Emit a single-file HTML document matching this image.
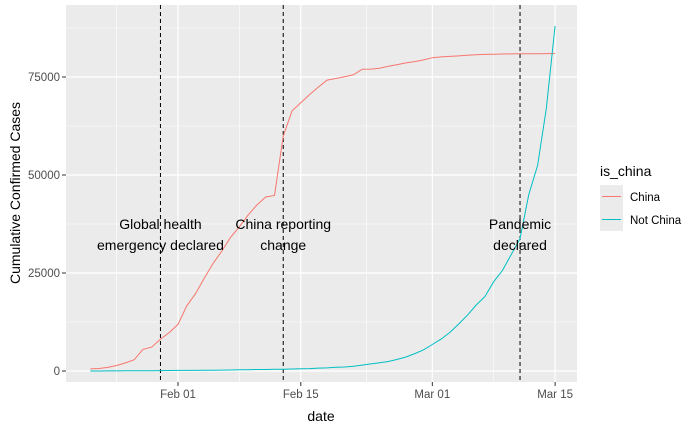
<!DOCTYPE html>
<html><head><meta charset="utf-8"><style>
body{margin:0;background:#fff;}
svg{display:block;font-family:"Liberation Sans",sans-serif;}
</style></head><body>
<svg id="chart" width="700" height="432" viewBox="0 0 700 432">
<rect x="66" y="5" width="511" height="377" fill="#ebebeb"/>
<g id="grid"></g>
<g id="vlines"></g>
<g id="lines"></g>
<g id="annot"></g>
<g id="axes"></g>
<text x="321" y="421" text-anchor="middle" font-size="14" fill="#000">date</text>
<text transform="translate(20,193) rotate(-90)" text-anchor="middle" font-size="14" fill="#000">Cumulative Confirmed Cases</text>
<g>
<text x="600" y="176" font-size="14" fill="#000">is_china</text>
<rect x="600" y="185" width="23" height="23" fill="#ebebeb"/>
<line x1="602" x2="621" y1="196.5" y2="196.5" stroke="#F8766D" stroke-width="1"/>
<text x="630" y="201" font-size="11.5" fill="#000">China</text>
<rect x="600" y="208" width="23" height="23" fill="#ebebeb"/>
<line x1="602" x2="621" y1="219.5" y2="219.5" stroke="#00BFC4" stroke-width="1"/>
<text x="630" y="224" font-size="11.5" fill="#000">Not China</text>
</g>
</svg>
<script>
const china = [548,643,920,1406,2075,2877,5509,6087,8141,9802,11891,16630,19716,23707,27440,30587,34110,36814,39829,42354,44386,44759,59895,66358,68413,70513,72434,74211,74619,75077,75550,77001,77022,77241,77754,78166,78600,78928,79356,79932,80136,80261,80386,80537,80690,80770,80823,80860,80887,80921,80932,80945,80977,81003];
const notChina = [6,12,19,33,48,57,75,87,105,131,146,153,159,173,186,227,265,317,344,373,393,439,468,509,582,620,747,802,956,1024,1190,1508,1813,2113,2435,2960,3564,4431,5406,6766,8127,9850,11964,14236,16835,18967,22772,25676,29740,33750,45023,52449,66927,88000];
const startDay = -10; // Jan 22 relative to Feb 01
const xTickDays = [0,14,29,43];
const xTickLabels = ["Feb 01","Feb 15","Mar 01","Mar 15"];
const xMinorDays = [-7,7,21.5,36];
const yTicks = [0,25000,50000,75000];
const yTickLabels = ["0","25000","50000","75000"];
const yMinor = [12500,37500,62500,87500];
const eventDays = [-2,12,39];
const eventLabels = [["Global health","emergency declared"],["China reporting","change"],["Pandemic","declared"]];
const NS="http://www.w3.org/2000/svg";
const xs=d=>178+d*8.77;
const ys=v=>371-v*0.00392;
function mk(tag,attrs,parent){const e=document.createElementNS(NS,tag);for(const k in attrs)e.setAttribute(k,attrs[k]);document.getElementById(parent).appendChild(e);return e;}
yMinor.forEach(v=>{const e=mk('line',{x1:66,x2:577,y1:ys(v),y2:ys(v),stroke:'#fff','stroke-width':0.6},'grid');

});
xMinorDays.forEach(d=>{const e=mk('line',{x1:xs(d),x2:xs(d),y1:5,y2:382,stroke:'#fff','stroke-width':0.6},'grid');

});
yTicks.forEach((v,i)=>{const e=mk('line',{x1:66,x2:577,y1:ys(v),y2:ys(v),stroke:'#fff','stroke-width':1.2},'grid');


const t=mk('line',{x1:62,x2:66,y1:ys(v),y2:ys(v),stroke:'#333'},'axes');


const l=mk('text',{x:60,y:ys(v)+4,'text-anchor':'end','font-size':11.5,fill:'#4d4d4d'},'axes');l.textContent=yTickLabels[i];

});
xTickDays.forEach((d,i)=>{const e=mk('line',{x1:xs(d),x2:xs(d),y1:5,y2:382,stroke:'#fff','stroke-width':1.2},'grid');


const t=mk('line',{x1:xs(d),x2:xs(d),y1:382,y2:386,stroke:'#333'},'axes');


const l=mk('text',{x:xs(d),y:398,'text-anchor':'middle','font-size':11.5,fill:'#4d4d4d'},'axes');l.textContent=xTickLabels[i];

});
function path(arr,color,name){const d=arr.map((v,i)=>(i?'L':'M')+xs(startDay+i).toFixed(1)+','+ys(v).toFixed(1)).join('');
const p=mk('path',{d:d,fill:'none',stroke:color,'stroke-width':1},'lines');

}
path(china,'#F8766D','china-line');
path(notChina,'#00BFC4','not-china-line');
eventDays.forEach((d,i)=>{const e=mk('line',{x1:xs(d),x2:xs(d),y1:5,y2:382,stroke:'#000','stroke-dasharray':'4,3','stroke-width':1},'vlines');


eventLabels[i].forEach((s,j)=>{const t=mk('text',{x:xs(d),y:229+j*21,'text-anchor':'middle','font-size':14,fill:'#000'},'annot');t.textContent=s;

});});
</script>
</body></html>
